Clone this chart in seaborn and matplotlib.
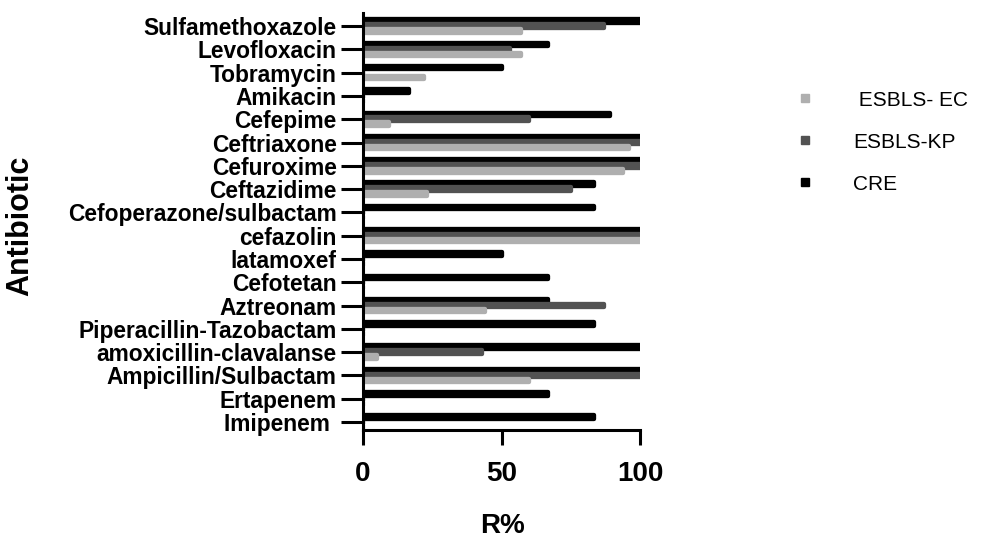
import pandas as pd
import numpy as np
import matplotlib
matplotlib.use("Agg")
import matplotlib.pyplot as plt
import seaborn as sns
from matplotlib.lines import Line2D

# Data, read top to bottom
antibiotics = ["Sulfamethoxazole", "Levofloxacin", "Tobramycin", "Amikacin", "Cefepime",
               "Ceftriaxone", "Cefuroxime", "Ceftazidime", "Cefoperazone/sulbactam",
               "cefazolin", "latamoxef", "Cefotetan", "Aztreonam", "Piperacillin-Tazobactam",
               "amoxicillin-clavalanse", "Ampicillin/Sulbactam", "Ertapenem", "Imipenem "]
esbls_ec = [57, 57, 22, 0, 9.5, 96, 94, 23, 0, 100, 0, 0, 44, 0, 5, 60, 0, 0]
esbls_kp = [87, 53, 0, 0, 60, 100, 100, 75, 0, 100, 0, 0, 87, 0, 43, 100, 0, 0]
cre = [100, 66.7, 50, 16.7, 89, 100, 100, 83.3, 83.3, 100, 50, 66.7, 66.7, 83.3, 100, 100, 66.7, 83.3]

groups = ["CRE", "ESBLS-KP", " ESBLS- EC"]
colors = {"CRE": "#000000", "ESBLS-KP": "#525252", " ESBLS- EC": "#AFAFAF"}

df = pd.concat([
    pd.DataFrame({"Antibiotic": antibiotics, "R%": cre, "group": "CRE"}),
    pd.DataFrame({"Antibiotic": antibiotics, "R%": esbls_kp, "group": "ESBLS-KP"}),
    pd.DataFrame({"Antibiotic": antibiotics, "R%": esbls_ec, "group": " ESBLS- EC"}),
])

sns.set_style("ticks", {"axes.edgecolor": "black", "text.color": "black",
                        "xtick.color": "black", "ytick.color": "black",
                        "axes.labelcolor": "black"})
plt.rcParams["font.family"] = ["Liberation Sans", "DejaVu Sans"]

fig = plt.figure(figsize=(9.83, 5.4), dpi=100)
ax = fig.add_axes([0.3693, 0.2037, 0.2818, 0.7722])

sns.barplot(data=df, x="R%", y="Antibiotic", hue="group", hue_order=groups,
            palette=colors, orient="h", width=0.64, ax=ax, legend=False,
            saturation=1, errorbar=None)

# thicker bars that overlap, with rounded ends (thick round-joined edge)
bar_h = 0.15
for p in ax.patches:
    mid = p.get_y() + p.get_height() / 2
    p.set_height(bar_h)
    p.set_y(mid - bar_h / 2)
    p.set_edgecolor(p.get_facecolor())
    p.set_linewidth(3.1)
    p.set_joinstyle("round")

ax.set_xlim(0, 100)
ax.set_ylim(17.34, -0.56)
ax.set_xticks([0, 50, 100])
sns.despine(ax=ax)
for s in ["left", "bottom"]:
    ax.spines[s].set_linewidth(2.2)
    ax.spines[s].set_color("black")
    ax.spines[s].set_zorder(5)

ax.tick_params(axis="y", length=16, width=2.2, pad=3, labelsize=16.4, colors="black")
ax.tick_params(axis="x", length=11, width=2.2, pad=11, labelsize=20, colors="black")
for lbl in ax.get_yticklabels() + ax.get_xticklabels():
    lbl.set_fontweight("bold")

ax.set_ylabel("Antibiotic", fontsize=22, fontweight="bold", color="black")
ax.yaxis.set_label_coords(-1.184, 0.49)
ax.set_xlabel("R%", fontsize=20, fontweight="bold", color="black")
ax.xaxis.set_label_coords(0.505, -0.198)

# legend, EC first
handles = [Line2D([], [], marker="s", ls="", color=colors[g], markersize=6) for g in groups[::-1]]
fig.legend(handles, groups[::-1], loc="upper left", bbox_to_anchor=(0.8083, 0.832),
           frameon=False, fontsize=15, handlelength=1, handletextpad=1.8,
           labelspacing=1.1, borderpad=0, borderaxespad=0, labelcolor="black")

fig.savefig("out.png", dpi=100)
